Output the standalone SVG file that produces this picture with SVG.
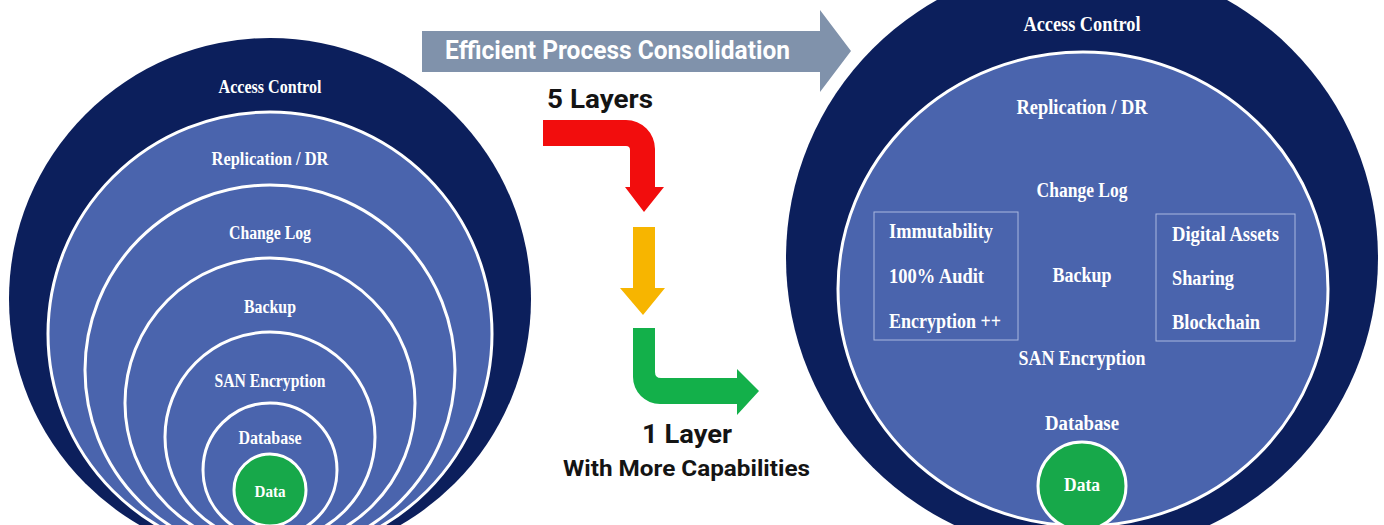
<svg xmlns="http://www.w3.org/2000/svg" width="1384" height="525" viewBox="0 0 1384 525">
  <defs>
    <style>
      .outer { fill: #0c1f5c; }
      .ring { fill: #4a64ad; stroke: #ffffff; stroke-width: 3; }
      .core { fill: #17a84a; stroke: #ffffff; stroke-width: 3; }
      .lbl { font-family: "Liberation Serif", "Times New Roman", serif; font-weight: bold; fill: #ffffff; text-anchor: middle; }
      .l18 { font-size: 18px; }
      .l20 { font-size: 20px; }
      .start { text-anchor: start; }
      .box { fill: none; stroke: #a9b7df; stroke-width: 1; }
      .sans { font-family: Roboto, "Liberation Sans", Arial, sans-serif; font-weight: bold; }
    </style>
  </defs>
  <rect x="0" y="0" width="1384" height="525" fill="#ffffff"/>

  <!-- Left: 5 layers -->
  <g id="left-access-control">
    <circle class="outer" cx="270" cy="299" r="261"/>
    <text class="lbl l18" x="270" y="93" textLength="103" lengthAdjust="spacingAndGlyphs">Access Control</text>
  </g>
  <g id="left-replication">
    <circle class="ring" cx="270" cy="334" r="222"/>
    <text class="lbl l18" x="270" y="165" textLength="117" lengthAdjust="spacingAndGlyphs">Replication / DR</text>
  </g>
  <g id="left-change-log">
    <circle class="ring" cx="270" cy="370" r="185"/>
    <text class="lbl l18" x="270" y="239" textLength="82" lengthAdjust="spacingAndGlyphs">Change Log</text>
  </g>
  <g id="left-backup">
    <circle class="ring" cx="270" cy="403" r="145"/>
    <text class="lbl l18" x="270" y="313" textLength="52" lengthAdjust="spacingAndGlyphs">Backup</text>
  </g>
  <g id="left-san-encryption">
    <circle class="ring" cx="270" cy="437" r="105"/>
    <text class="lbl l18" x="270" y="387" textLength="111" lengthAdjust="spacingAndGlyphs">SAN Encryption</text>
  </g>
  <g id="left-database">
    <circle class="ring" cx="270" cy="470" r="67"/>
    <text class="lbl l18" x="270" y="444" textLength="63" lengthAdjust="spacingAndGlyphs">Database</text>
  </g>
  <g id="left-data">
    <circle class="core" cx="270" cy="490" r="36"/>
    <text class="lbl" style="font-size:16px" x="270" y="497" textLength="31" lengthAdjust="spacingAndGlyphs">Data</text>
  </g>

  <!-- Middle -->
  <g id="consolidation-arrow">
    <path d="M422,31 H820 V10 L851,51 L820,92 V72 H422 Z" fill="#8092ab"/>
    <text class="sans" x="445" y="59" font-size="25" fill="#ffffff" textLength="345" lengthAdjust="spacingAndGlyphs">Efficient Process Consolidation</text>
  </g>
  <g id="five-layers-label">
    <text class="sans" x="547" y="108" font-size="26" fill="#141414" textLength="106" lengthAdjust="spacingAndGlyphs">5 Layers</text>
  </g>
  <g id="connectors">
    <path id="red-arrow" d="M543,120 H626 A29,29 0 0 1 655,149 V187 H664 L644,212 L625,187 H630 V150 Q630,146 626,146 H543 Z" fill="#f20d0d"/>
    <path id="yellow-arrow" d="M633,227 H655 V288 H665 L643,315 L620,288 H633 Z" fill="#f7b500"/>
    <path id="green-arrow" d="M633,328 H655 V372 Q655,378 661,378 H737 V369 L759,391 L737,415 V404 H660 A27,27 0 0 1 633,377 Z" fill="#13b04a"/>
  </g>
  <g id="one-layer-label">
    <text class="sans" x="642" y="443" font-size="26" fill="#141414" textLength="90" lengthAdjust="spacingAndGlyphs">1 Layer</text>
    <text class="sans" x="563" y="476" font-size="22" fill="#141414" textLength="247" lengthAdjust="spacingAndGlyphs">With More Capabilities</text>
  </g>

  <!-- Right: 1 layer -->
  <g id="right-access-control">
    <circle class="outer" cx="1082" cy="258" r="296"/>
    <text class="lbl l20" x="1082" y="31" textLength="117" lengthAdjust="spacingAndGlyphs">Access Control</text>
  </g>
  <g id="right-layer">
    <ellipse class="ring" cx="1083" cy="289" rx="245" ry="237"/>
    <text class="lbl l20" x="1082" y="114" textLength="131" lengthAdjust="spacingAndGlyphs">Replication / DR</text>
    <text class="lbl l20" x="1082" y="197" textLength="91" lengthAdjust="spacingAndGlyphs">Change Log</text>
    <text class="lbl l20" x="1082" y="282" textLength="59" lengthAdjust="spacingAndGlyphs">Backup</text>
    <text class="lbl l20" x="1082" y="365" textLength="127" lengthAdjust="spacingAndGlyphs">SAN Encryption</text>
    <text class="lbl l20" x="1082" y="430" textLength="74" lengthAdjust="spacingAndGlyphs">Database</text>
  </g>
  <g id="right-left-box">
    <rect class="box" x="874" y="212" width="144" height="128"/>
    <text class="lbl l20 start" x="889" y="238" textLength="104" lengthAdjust="spacingAndGlyphs">Immutability</text>
    <text class="lbl l20 start" x="889" y="283" textLength="95" lengthAdjust="spacingAndGlyphs">100% Audit</text>
    <text class="lbl l20 start" x="889" y="328" textLength="112" lengthAdjust="spacingAndGlyphs">Encryption ++</text>
  </g>
  <g id="right-right-box">
    <rect class="box" x="1156" y="214" width="139" height="127"/>
    <text class="lbl l20 start" x="1172" y="241" textLength="107" lengthAdjust="spacingAndGlyphs">Digital Assets</text>
    <text class="lbl l20 start" x="1172" y="285" textLength="62" lengthAdjust="spacingAndGlyphs">Sharing</text>
    <text class="lbl l20 start" x="1172" y="329" textLength="88" lengthAdjust="spacingAndGlyphs">Blockchain</text>
  </g>
  <g id="right-data">
    <circle class="core" cx="1082" cy="486" r="44"/>
    <text class="lbl" style="font-size:18px" x="1082" y="491" textLength="36" lengthAdjust="spacingAndGlyphs">Data</text>
  </g>
</svg>
